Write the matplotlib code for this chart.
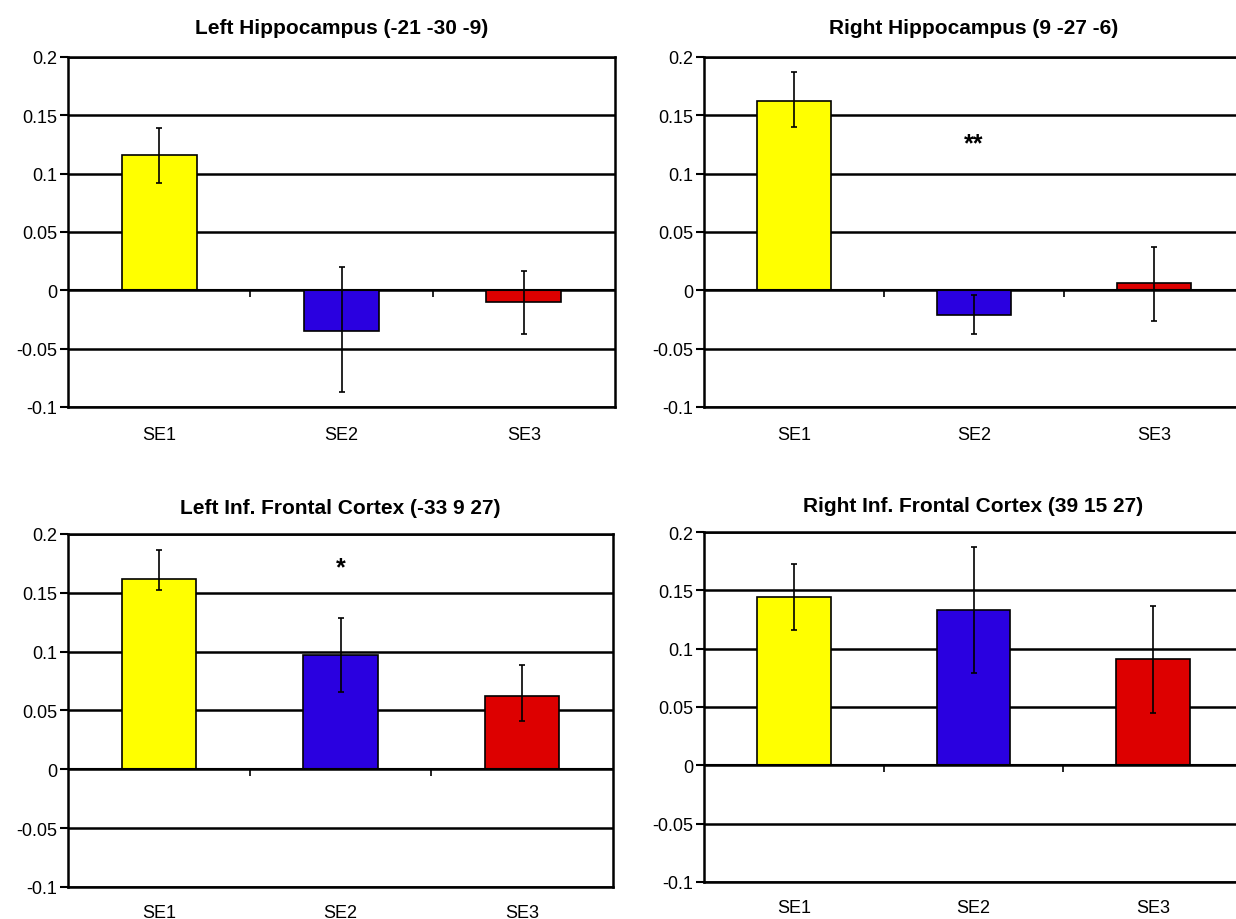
import matplotlib
matplotlib.use('Agg')
import matplotlib.pyplot as plt

plt.rcParams['font.family'] = ['Liberation Sans', 'DejaVu Sans']

categories = ['SE1', 'SE2', 'SE3']
colors = ['#ffff00', '#2a00e0', '#dd0000']

titles = ['Left Hippocampus (-21 -30 -9)',
          'Right Hippocampus (9 -27 -6)',
          'Left Inf. Frontal Cortex (-33 9 27)',
          'Right Inf. Frontal Cortex (39 15 27)']

means = [[0.116, -0.035, -0.010],
         [0.162, -0.021, 0.006],
         [0.162, 0.097, 0.062],
         [0.144, 0.133, 0.091]]

err_low = [[0.024, 0.052, 0.027],
           [0.022, 0.016, 0.032],
           [0.010, 0.031, 0.021],
           [0.028, 0.054, 0.046]]

err_high = [[0.023, 0.055, 0.027],
            [0.025, 0.017, 0.031],
            [0.024, 0.032, 0.027],
            [0.029, 0.054, 0.046]]

# significance markers: (panel, category index, y, text)
stars = [(1, 1, 0.126, '**'), (2, 1, 0.172, '*')]

yticks = [-0.1, -0.05, 0, 0.05, 0.1, 0.15, 0.2]
ytick_labels = ['-0.1', '-0.05', '0', '0.05', '0.1', '0.15', '0.2']

W, H = 1236, 920
# axes boxes in pixels: left, right, top, bottom
boxes = [(68, 615, 58, 408),
         (704, 1244, 58, 408),
         (68, 613, 535, 888),
         (704, 1243, 533, 883)]
title_pads = [17, 17, 15, 15]

fig = plt.figure(figsize=(W / 100, H / 100), dpi=100)

for i, (l, r, t, b) in enumerate(boxes):
    ax = fig.add_axes([l / W, 1 - b / H, (r - l) / W, (b - t) / H])
    x = [1, 2, 3]
    ax.bar(x, means[i], width=0.41, color=colors, edgecolor='black', linewidth=1.2, zorder=3)
    ax.errorbar(x, means[i], yerr=[err_low[i], err_high[i]], fmt='none', ecolor='black',
                elinewidth=1.2, capsize=2.5, capthick=1.2, zorder=4)
    ax.set_xlim(0.5, 3.5)
    ax.set_ylim(-0.1, 0.2)
    ax.set_yticks(yticks)
    ax.set_yticklabels(ytick_labels)
    ax.set_xticks(x)
    ax.set_xticklabels(categories)
    ax.tick_params(axis='x', length=0, pad=14 if i < 2 else 12, labelsize=13)
    ax.tick_params(axis='y', length=6, width=1.5, direction='out', pad=2, labelsize=13)
    for y in yticks:
        ax.axhline(y, color='black', linewidth=1.8, zorder=1)
    ax.axhline(0, color='black', linewidth=1.5, zorder=5)
    for side in ['left', 'top', 'right', 'bottom']:
        ax.spines[side].set_linewidth(1.8)
    # category separator ticks on the zero line
    sec = ax.secondary_xaxis(1 / 3)
    sec.set_xticks([1.5, 2.5])
    sec.set_xticklabels([])
    sec.spines['bottom'].set_visible(False)
    sec.tick_params(axis='x', length=5, width=1.2, direction='out')
    ax.set_title(titles[i], fontsize=15, fontweight='bold', pad=title_pads[i])

    for panel, ci, y, txt in stars:
        if panel == i:
            ax.text(x[ci], y, txt, ha='center', va='center', fontsize=18, fontweight='bold')

fig.savefig('out.png', dpi=100)
